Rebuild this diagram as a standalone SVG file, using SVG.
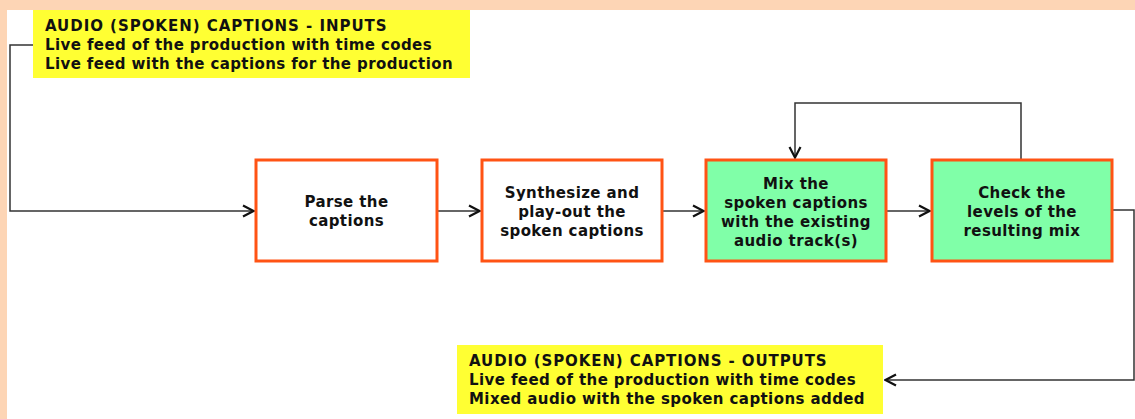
<svg xmlns="http://www.w3.org/2000/svg" width="1135" height="419" viewBox="0 0 1135 419">
<style>
.bg{fill:#FDD5B5}
.note{fill:#FFFF33}
.box{stroke:#FF5314;stroke-width:3}
.w{fill:#FFFFFF}
.g{fill:#80FFA8}
text{font-family:"DejaVu Sans",Verdana,sans-serif;font-weight:bold;font-size:15px;letter-spacing:0.4px;fill:#111}
.c{text-anchor:middle}
.line{fill:none;stroke:#333;stroke-width:1.5}
</style>
<defs>
<marker id="arr" viewBox="0 0 14 14" refX="13" refY="7" markerWidth="14" markerHeight="14" markerUnits="userSpaceOnUse" orient="auto">
<path d="M2,1.5 L12.5,7 L2,12.5" fill="none" stroke="#111" stroke-width="2.2"/>
</marker>
</defs>
<rect class="bg" x="0" y="0" width="1135" height="419"/>
<rect x="7" y="10" width="1128" height="409" fill="#FFFFFF"/>
<g id="connectors">
<path class="line" d="M33,45 H10 V211 H254" marker-end="url(#arr)"/>
<path class="line" d="M438,211 H480" marker-end="url(#arr)"/>
<path class="line" d="M663,211 H704" marker-end="url(#arr)"/>
<path class="line" d="M887,211 H930" marker-end="url(#arr)"/>
<path class="line" d="M1021,159 V103 H795 V158" marker-end="url(#arr)"/>
<path class="line" d="M1113,210 H1134 V380 H885" marker-end="url(#arr)"/>
</g>
<g id="inputs">
<rect class="note" x="33" y="10" width="437" height="68"/>
<text x="45" y="31" textLength="342" lengthAdjust="spacing">AUDIO (SPOKEN) CAPTIONS - INPUTS</text>
<text x="45" y="50" textLength="387" lengthAdjust="spacing">Live feed of the production with time codes</text>
<text x="45" y="69" textLength="408" lengthAdjust="spacing">Live feed with the captions for the production</text>
</g>
<g id="parse">
<rect class="box w" x="256" y="160" width="181" height="101"/>
<text class="c" x="346.5" y="207">Parse the</text>
<text class="c" x="346.5" y="226">captions</text>
</g>
<g id="synthesize">
<rect class="box w" x="482" y="160" width="180" height="101"/>
<text class="c" x="572" y="198">Synthesize and</text>
<text class="c" x="572" y="217">play-out the</text>
<text class="c" x="572" y="236">spoken captions</text>
</g>
<g id="mix">
<rect class="box g" x="706" y="160" width="180" height="101"/>
<text class="c" x="796" y="189">Mix the</text>
<text class="c" x="796" y="208">spoken captions</text>
<text class="c" x="796" y="227">with the existing</text>
<text class="c" x="796" y="246">audio track(s)</text>
</g>
<g id="check">
<rect class="box g" x="932" y="160" width="180" height="101"/>
<text class="c" x="1022" y="198">Check the</text>
<text class="c" x="1022" y="217">levels of the</text>
<text class="c" x="1022" y="236">resulting mix</text>
</g>
<g id="outputs">
<rect class="note" x="457" y="345" width="426" height="69"/>
<text x="469" y="366" textLength="358" lengthAdjust="spacing">AUDIO (SPOKEN) CAPTIONS - OUTPUTS</text>
<text x="469" y="385" textLength="387" lengthAdjust="spacing">Live feed of the production with time codes</text>
<text x="469" y="404" textLength="396" lengthAdjust="spacing">Mixed audio with the spoken captions added</text>
</g>
</svg>
